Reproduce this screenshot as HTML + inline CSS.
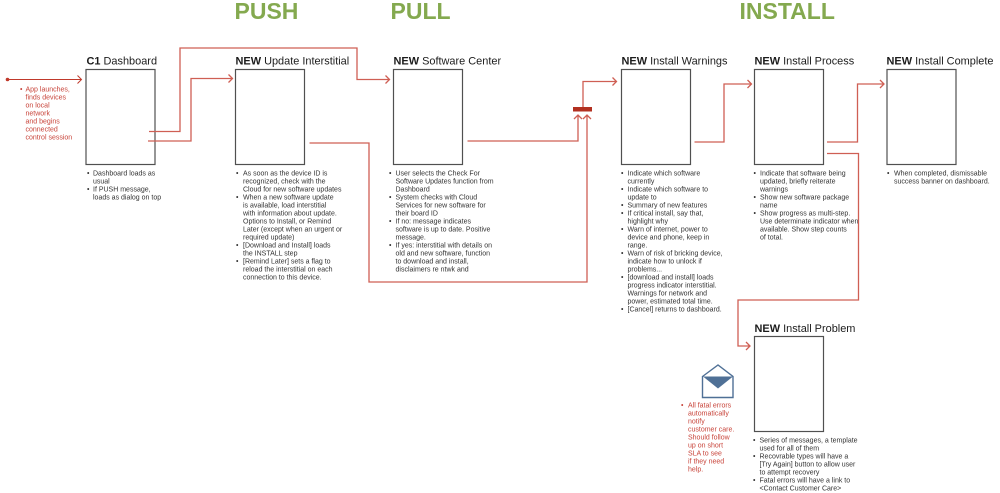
<!DOCTYPE html>
<html><head><meta charset="utf-8"><style>
html,body{margin:0;padding:0;background:#fff;width:1000px;height:493px;overflow:hidden}
svg{display:block;font-family:"Liberation Sans",sans-serif}
.h{font-size:23px;font-weight:bold;fill:#84a94f}
.t{font-size:10.95px;fill:#1c1c1c}
.t tspan{font-weight:bold}
.b{fill:#fff;stroke:#505050;stroke-width:1.2}
.l{fill:none;stroke:#cf5f54;stroke-width:1.3}
.a{fill:none;stroke:#c0392b;stroke-width:1}
.x{font-size:7px;fill:#333}
.r{font-size:7px;fill:#c8443a}
</style></head><body>
<svg width="1000" height="493" viewBox="0 0 1000 493" xmlns="http://www.w3.org/2000/svg">
<text class="h" x="234.500" y="19">PUSH</text>
<text class="h" x="390.500" y="19">PULL</text>
<text class="h" x="739.500" y="19">INSTALL</text>

<text class="t" x="86.500" y="64.500"><tspan>C1</tspan> Dashboard</text>
<text class="t" x="235.500" y="64.500"><tspan>NEW</tspan> Update Interstitial</text>
<text class="t" x="393.500" y="64.500"><tspan>NEW</tspan> Software Center</text>
<text class="t" x="621.500" y="64.500"><tspan>NEW</tspan> Install Warnings</text>
<text class="t" x="754.500" y="64.500"><tspan>NEW</tspan> Install Process</text>
<text class="t" x="886.500" y="64.500"><tspan>NEW</tspan> Install Complete</text>
<text class="t" x="754.500" y="332"><tspan>NEW</tspan> Install Problem</text>

<rect class="b" x="86" y="69.500" width="69" height="95"/>
<rect class="b" x="235.500" y="69.500" width="69" height="95"/>
<rect class="b" x="393.500" y="69.500" width="69" height="95"/>
<rect class="b" x="621.500" y="69.500" width="69" height="95"/>
<rect class="b" x="754.500" y="69.500" width="69" height="95"/>
<rect class="b" x="887" y="69.500" width="69" height="95"/>
<rect class="b" x="754.500" y="336.500" width="69" height="95"/>

<circle cx="7.500" cy="79.500" r="1.800" fill="#c0392b"/>
<path class="a" d="M8 79.500H81M77.500 75.500l4 4-4 4"/>
<path class="l" d="M149 131.500H180V48H357V79.500H389M385.500 75.500l4 4-4 4"/>
<path class="l" d="M148 141H191V78.500H232M228.500 74.500l4 4-4 4"/>
<path class="l" d="M309.500 143H369V282H587V115M583 119l4-4 4 4"/>
<path class="l" d="M467.500 141H578V115M574 119l4-4 4 4"/>
<rect x="573" y="107" width="19" height="4.500" fill="#b23020"/>
<path class="l" d="M583 107V81.500H616M612.500 77.500l4 4-4 4"/>
<path class="l" d="M694.500 142H724V84H751M747.500 80l4 4-4 4"/>
<path class="l" d="M827 142H857.500V84H883.500M880 80l4 4-4 4"/>
<path class="l" d="M827 153.500H858.500V300H738V346H749.500M746 342l4 4-4 4"/>

<path d="M702.500 376.500L718 365L733 376.500V397.500H702.500Z" fill="#fff" stroke="#4f7096" stroke-width="1.400"/>
<path d="M703 376.500H733L718 388.500Z" fill="#4f7096"/>

<g class="r">
<text class="r" x="20" y="91.500">•</text>
<text class="r" x="25.500" y="91.500">App launches,</text>
<text class="r" x="25.500" y="99.500">finds devices</text>
<text class="r" x="25.500" y="107.500">on local</text>
<text class="r" x="25.500" y="115.500">network</text>
<text class="r" x="25.500" y="123.500">and begins</text>
<text class="r" x="25.500" y="131.500">connected</text>
<text class="r" x="25.500" y="139.500">control session</text>
<text class="r" x="681" y="407.500">•</text>
<text class="r" x="688" y="407.500">All fatal errors</text>
<text class="r" x="688" y="415.500">automatically</text>
<text class="r" x="688" y="423.500">notify</text>
<text class="r" x="688" y="431.500">customer care.</text>
<text class="r" x="688" y="439.500">Should follow</text>
<text class="r" x="688" y="447.500">up on short</text>
<text class="r" x="688" y="455.500">SLA to see</text>
<text class="r" x="688" y="463.500">if they need</text>
<text class="r" x="688" y="471.500">help.</text>
</g>

<g class="x">
<text x="87" y="175.500">•</text><text x="93" y="175.500">Dashboard loads as</text>
<text x="93" y="183.500">usual</text>
<text x="87" y="191.500">•</text><text x="93" y="191.500">If PUSH message,</text>
<text x="93" y="199.500">loads as dialog on top</text>

<text x="236" y="175.500">•</text><text x="243" y="175.500">As soon as the device ID is</text>
<text x="243" y="183.500">recognized, check with the</text>
<text x="243" y="191.500">Cloud for new software updates</text>
<text x="236" y="199.500">•</text><text x="243" y="199.500">When a new software update</text>
<text x="243" y="207.500">is available, load interstitial</text>
<text x="243" y="215.500">with information about update.</text>
<text x="243" y="223.500">Options to Install, or Remind</text>
<text x="243" y="231.500">Later (except when an urgent or</text>
<text x="243" y="239.500">required update)</text>
<text x="236" y="247.500">•</text><text x="243" y="247.500">[Download and Install] loads</text>
<text x="243" y="255.500">the INSTALL step</text>
<text x="236" y="263.500">•</text><text x="243" y="263.500">[Remind Later] sets a flag to</text>
<text x="243" y="271.500">reload the interstitial on each</text>
<text x="243" y="279.500">connection to this device.</text>

<text x="389" y="175.500">•</text><text x="395.500" y="175.500">User selects the Check For</text>
<text x="395.500" y="183.500">Software Updates function from</text>
<text x="395.500" y="191.500">Dashboard</text>
<text x="389" y="199.500">•</text><text x="395.500" y="199.500">System checks with Cloud</text>
<text x="395.500" y="207.500">Services for new software for</text>
<text x="395.500" y="215.500">their board ID</text>
<text x="389" y="223.500">•</text><text x="395.500" y="223.500">If no: message indicates</text>
<text x="395.500" y="231.500">software is up to date. Positive</text>
<text x="395.500" y="239.500">message.</text>
<text x="389" y="247.500">•</text><text x="395.500" y="247.500">If yes: interstitial with details on</text>
<text x="395.500" y="255.500">old and new software, function</text>
<text x="395.500" y="263.500">to download and install,</text>
<text x="395.500" y="271.500">disclaimers re ntwk and</text>

<text x="621" y="175.500">•</text><text x="627.500" y="175.500">Indicate which software</text>
<text x="627.500" y="183.500">currently</text>
<text x="621" y="191.500">•</text><text x="627.500" y="191.500">Indicate which software to</text>
<text x="627.500" y="199.500">update to</text>
<text x="621" y="207.500">•</text><text x="627.500" y="207.500">Summary of new features</text>
<text x="621" y="215.500">•</text><text x="627.500" y="215.500">If critical install, say that,</text>
<text x="627.500" y="223.500">highlight why</text>
<text x="621" y="231.500">•</text><text x="627.500" y="231.500">Warn of internet, power to</text>
<text x="627.500" y="239.500">device and phone, keep in</text>
<text x="627.500" y="247.500">range.</text>
<text x="621" y="255.500">•</text><text x="627.500" y="255.500">Warn of risk of bricking device,</text>
<text x="627.500" y="263.500">indicate how to unlock if</text>
<text x="627.500" y="271.500">problems...</text>
<text x="621" y="279.500">•</text><text x="627.500" y="279.500">[download and install] loads</text>
<text x="627.500" y="287.500">progress indicator interstitial.</text>
<text x="627.500" y="295.500">Warnings for network and</text>
<text x="627.500" y="303.500">power, estimated total time.</text>
<text x="621" y="311.500">•</text><text x="627.500" y="311.500">[Cancel] returns to dashboard.</text>

<text x="753.500" y="175.500">•</text><text x="760" y="175.500">Indicate that software being</text>
<text x="760" y="183.500">updated, briefly reiterate</text>
<text x="760" y="191.500">warnings</text>
<text x="753.500" y="199.500">•</text><text x="760" y="199.500">Show new software package</text>
<text x="760" y="207.500">name</text>
<text x="753.500" y="215.500">•</text><text x="760" y="215.500">Show progress as multi-step.</text>
<text x="760" y="223.500">Use determinate indicator when</text>
<text x="760" y="231.500">available. Show step counts</text>
<text x="760" y="239.500">of total.</text>

<text x="887" y="175.500">•</text><text x="894" y="175.500">When completed, dismissable</text>
<text x="894" y="183.500">success banner on dashboard.</text>

<text x="753" y="442.500">•</text><text x="759.500" y="442.500">Series of messages, a template</text>
<text x="759.500" y="450.500">used for all of them</text>
<text x="753" y="458.500">•</text><text x="759.500" y="458.500">Recovrable types will have a</text>
<text x="759.500" y="466.500">[Try Again] button to allow user</text>
<text x="759.500" y="474.500">to attempt recovery</text>
<text x="753" y="482.500">•</text><text x="759.500" y="482.500">Fatal errors will have a link to</text>
<text x="759.500" y="490.500">&lt;Contact Customer Care&gt;</text>
</g>
</svg>
</body></html>
